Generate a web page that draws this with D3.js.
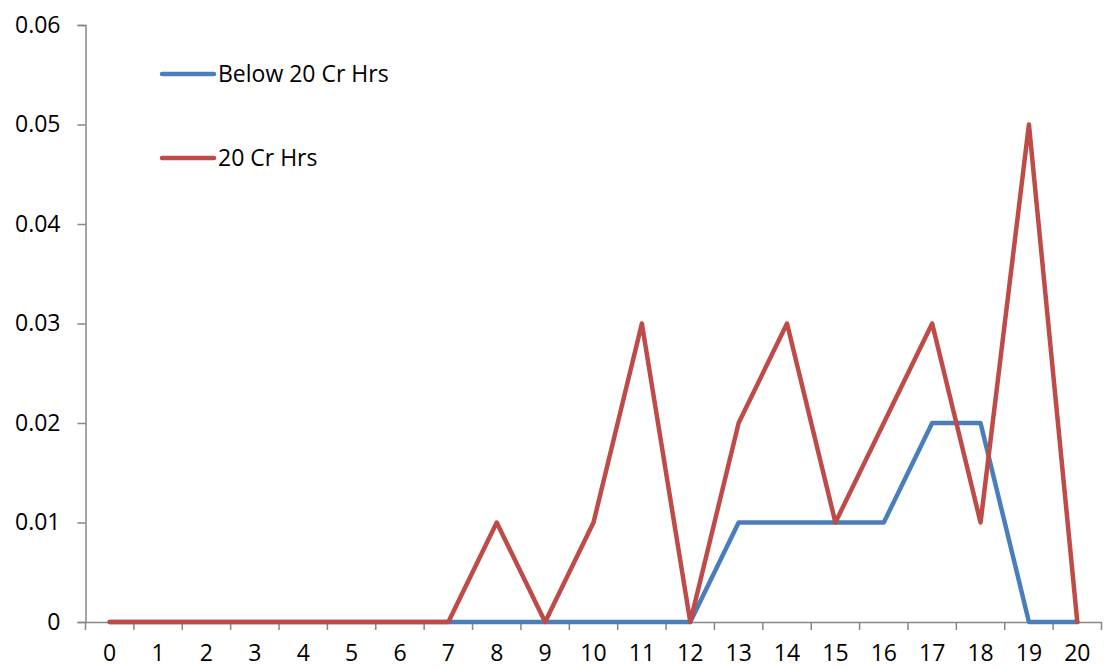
<!DOCTYPE html>
<html><head><meta charset="utf-8">
<script src="https://cdn.jsdelivr.net/npm/d3@7"></script>
<style>body{margin:0;background:#fff;} text{font-family:"Open Sans","Noto Sans",sans-serif;}</style>
</head><body>
<svg id="c" width="1104" height="670"></svg>
<script>
const categories = d3.range(0, 21).map(String);
const seriesNames = ["Below 20 Cr Hrs", "20 Cr Hrs"];
const below20 = [0,0,0,0,0,0,0,0,0,0,0,0,0,0.01,0.01,0.01,0.01,0.02,0.02,0,0];
const cr20 = [0,0,0,0,0,0,0,0,0.01,0,0.01,0.03,0,0.02,0.03,0.01,0.02,0.03,0.01,0.05,0];
const yTicks = [0,0.01,0.02,0.03,0.04,0.05,0.06];
const colors = ["#4A7EBB", "#BE4B48"];

(function(){
const svg = d3.select("#c");
const mLeft = 85.5, mRight = 1101.5, mTop = 25, mBottom = 622;
const fs = 23;
const x = d3.scaleBand().domain(categories).range([mLeft, mRight]);
const y = d3.scaleLinear().domain([0, 0.06]).range([mBottom, mTop]);
const axisColor = "#868686";

const ya = svg.append("g").attr("transform", `translate(${mLeft},0)`)
  .call(d3.axisLeft(y).tickValues(yTicks).tickSize(8).tickPadding(17).tickFormat(d => d === 0 ? "0" : d3.format(".2f")(d)));
ya.select(".domain").attr("stroke", axisColor).attr("stroke-width", 1.5);
ya.selectAll(".tick line").attr("stroke", axisColor).attr("stroke-width", 1.5);
ya.selectAll(".tick text").attr("font-size", fs).attr("fill", "#000").attr("font-family", "Open Sans");

const xa = svg.append("g").attr("transform", `translate(0,${mBottom})`)
  .call(d3.axisBottom(x).tickSize(0).tickPadding(23));
xa.select(".domain").attr("stroke", axisColor).attr("stroke-width", 1.5);
xa.selectAll(".tick text").attr("font-size", fs).attr("fill", "#000").attr("font-family", "Open Sans");
const bounds = categories.map(c => x(c)).concat([x(categories[categories.length-1]) + x.bandwidth()]);
svg.append("g").selectAll("line").data(bounds).join("line")
  .attr("x1", d => d).attr("x2", d => d).attr("y1", mBottom).attr("y2", mBottom + 8)
  .attr("stroke", axisColor).attr("stroke-width", 1.5);

const line = d3.line().x((d, i) => x(categories[i]) + x.bandwidth() / 2).y(d => y(d));
[below20, cr20].forEach((s, k) => {
  svg.append("path").datum(s).attr("d", line).attr("fill", "none")
    .attr("stroke", colors[k]).attr("stroke-width", 4.5).attr("stroke-linejoin", "round").attr("stroke-linecap", "round");
});

const legY = [74, 158];
seriesNames.forEach((n, k) => {
  svg.append("line").attr("x1", 162).attr("x2", 214).attr("y1", legY[k]).attr("y2", legY[k])
    .attr("stroke", colors[k]).attr("stroke-width", 4.5).attr("stroke-linecap", "round");
  svg.append("text").attr("x", 218).attr("y", legY[k] + 8).attr("font-size", fs).attr("fill", "#000").text(n);
});
})();
</script>
</body></html>
